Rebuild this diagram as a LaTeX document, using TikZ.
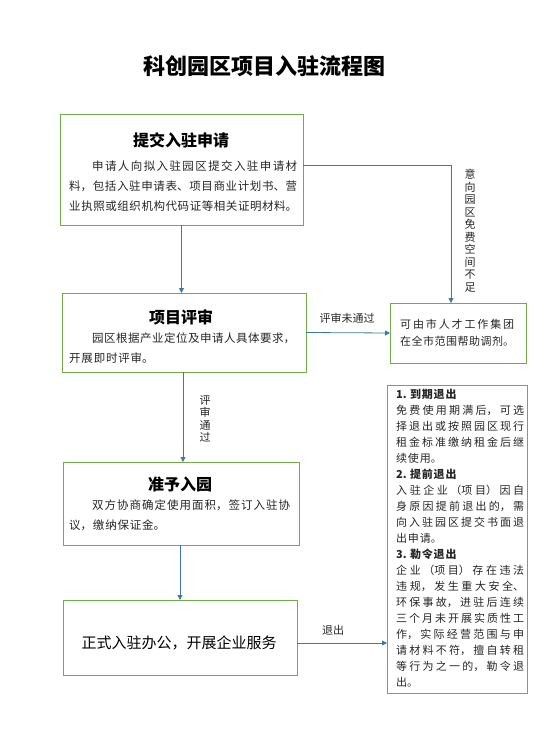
\documentclass[tikz,border=0pt]{standalone}
\usepackage{fontspec}
\setmainfont{Noto Sans CJK SC}
\XeTeXlinebreaklocale "zh"
\XeTeXlinebreakskip=0.8pt plus 2pt minus 0.8pt
\usetikzlibrary{arrows.meta}
\definecolor{boxgreen}{HTML}{70AD47}
\definecolor{arrowblue}{HTML}{41799B}
\definecolor{textgray}{HTML}{262626}
\tikzset{
  frame/.style={draw=boxgreen, line width=0.9pt, inner sep=0pt, outer sep=0pt, fill=white},
  arr/.style={draw=arrowblue, line width=0.8pt, -{Triangle[length=5pt,width=5pt]}},
  body/.style={inner sep=0pt, anchor=north west, align=justify, text=textgray, font=\fontsize{11.5}{20}\selectfont},
  sidebody/.style={inner sep=0pt, anchor=north west, align=justify, text=textgray, font=\fontsize{11}{16}\selectfont},
  boxtitle/.style={inner sep=0pt, text=black, font=\fontsize{16}{16}\selectfont\bfseries},
  lbl/.style={inner sep=0pt, text=textgray, font=\fontsize{11}{12.5}\selectfont, align=center}
}
\begin{document}
\begin{tikzpicture}[x=1pt,y=-1pt]
\useasboundingbox (0,0) rectangle (558,734);
\fill[white] (0,0) rectangle (558,734);
\node[inner sep=0pt, font=\fontsize{22}{22}\selectfont\bfseries] (title) at (264,66) {科创园区项目入驻流程图};
% boxes
\node[frame, minimum width=243, minimum height=111] (b1) at (181.5,169.5) {};
\node[frame, minimum width=244, minimum height=79] (b2) at (184,332.5) {};
\node[frame, minimum width=236, minimum height=83] (b3) at (181,503.5) {};
\node[frame, minimum width=234, minimum height=75] (b4) at (180,637.5) {};
\node[frame, minimum width=136, minimum height=60] (r1) at (458,333) {};
\node[frame, minimum width=140, minimum height=308] (r2) at (457,539) {};
% box texts
\node[boxtitle] (h1) at (181,140) {提交入驻申请};
\node[body, text width=228] (t1) at (69,161) {\hspace*{2em}申请人向拟入驻园区提交入驻申请材\linebreak 料，包括入驻申请表、项目商业计划书、营\linebreak 业执照或组织机构代码证等相关证明材料。};
\node[boxtitle] (h2) at (181,317) {项目评审};
\node[body, text width=226] (t2) at (69,333) {\hspace*{2em}园区根据产业定位及申请人具体要求，\linebreak 开展即时评审。};
\node[boxtitle] (h3) at (180,484) {准予入园};
\node[body, text width=221] (t3) at (69,500) {\hspace*{2em}双方协商确定使用面积，签订入驻协\linebreak 议，缴纳保证金。};
\node[inner sep=0pt, text=black, font=\fontsize{15}{15}\selectfont] (t4) at (179,643) {正式入驻办公，开展企业服务};
\node[sidebody, text width=114, font=\fontsize{11}{17}\selectfont] (tr1) at (400,319) {可由市人才工作集团\linebreak 在全市范围帮助调剂。};
\node[sidebody, text width=128] (tr2) at (396,389) {{\bfseries 1. 到期退出}\\免费使用期满后，可选\linebreak 择退出或按照园区现行\linebreak 租金标准缴纳租金后继\linebreak 续使用。\\{\bfseries 2. 提前退出}\\入驻企业（项目）因自\linebreak 身原因提前退出的，需\linebreak 向入驻园区提交书面退\linebreak 出申请。\\{\bfseries 3. 勒令退出}\\企业（项目）存在违法\linebreak 违规，发生重大安全、\linebreak 环保事故，进驻后连续\linebreak 三个月未开展实质性工\linebreak 作，实际经营范围与申\linebreak 请材料不符，擅自转租\linebreak 等行为之一的，勒令退\linebreak 出。};
% connectors
\draw[arr] (b1.south) -- (b1.south |- b2.north);
\coordinate (k1) at ([xshift=-7pt]r1.north);
\draw[arr] ([yshift=4.5pt]b1.east) -| (k1);
\draw[arr] (b2.east) -- (r1.west);
\draw[arr] ([xshift=-1pt]b2.south) -- ([xshift=-1pt]b2.south |- b3.north);
\draw[arr] ([xshift=-1pt]b3.south) -- ([xshift=-1pt]b3.south |- b4.north);
\draw[arr] ([yshift=-5.5pt]b4.east) -- ([yshift=-5.5pt]b4.east -| r2.west);
% labels
\node[lbl] (l1) at (470,231) {意\\向\\园\\区\\免\\费\\空\\间\\不\\足};
\node[lbl] (l2) at (347,318) {评审未通过};
\node[lbl] (l3) at (205,419) {评\\审\\通\\过};
\node[lbl] (l4) at (333,630) {退出};
\end{tikzpicture}
\end{document}
